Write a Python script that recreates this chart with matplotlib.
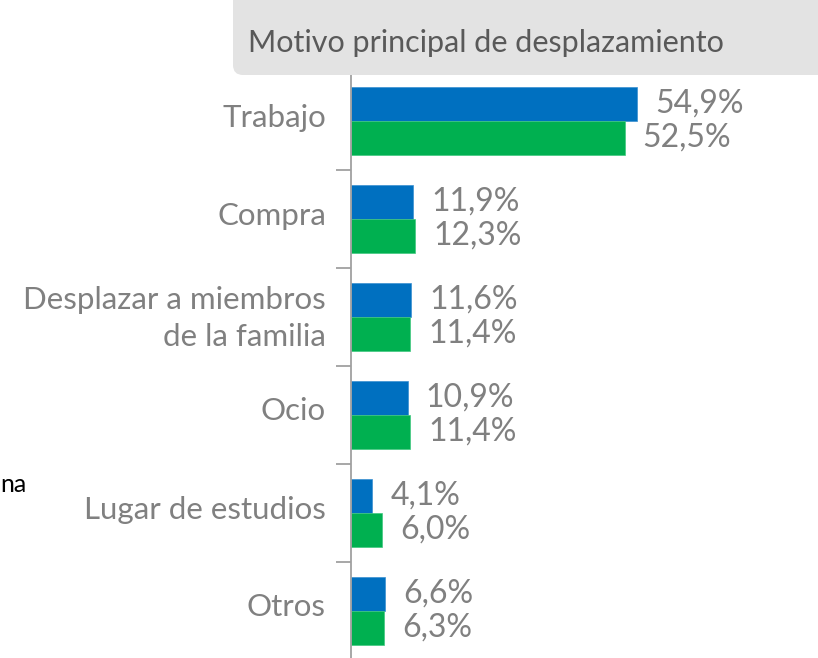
import matplotlib
matplotlib.use("Agg")
import matplotlib.pyplot as plt
from matplotlib.patches import FancyBboxPatch
from matplotlib.transforms import ScaledTranslation
import numpy as np

categories = ["Trabajo", "Compra", "Desplazar a miembros\nde la familia", "Ocio",
              "Lugar de estudios", "Otros"]
serie_a = [54.9, 11.9, 11.6, 10.9, 4.1, 6.6]
serie_b = [52.5, 12.3, 11.4, 11.4, 6.0, 6.3]
title = "Motivo principal de desplazamiento"

FONT = ["Lato", "DejaVu Sans"]
plt.rcParams['font.family'] = FONT

W, H = 818, 658
fig = plt.figure(figsize=(W / 100, H / 100), dpi=100)

def px_axes(left, top, right, bottom):
    return [left / W, (H - bottom) / H, (right - left) / W, (bottom - top) / H]

ax = fig.add_axes(px_axes(351, 72, 818, 660))
n = len(categories)
y = np.arange(n)
bh = 34 / 98
blue = "#0070C0"
green = "#00B050"
ax.barh(y - bh / 2, serie_a, height=bh, color=blue, edgecolor="#3a8fd0", linewidth=0.5)
ax.barh(y + bh / 2, serie_b, height=bh, color=green, edgecolor="#40c880", linewidth=0.5)

ax.set_xlim(0, (818 - 351) / 5.21)
ax.set_ylim(n - 0.5, -0.5)

txtc = "#808080"
for i in range(n):
    ax.annotate(f"{serie_a[i]:.1f}%".replace(".", ","), (serie_a[i], y[i] - bh / 2),
                xytext=(13, 0), textcoords="offset points", va="center", ha="left",
                fontsize=23, color=txtc)
    ax.annotate(f"{serie_b[i]:.1f}%".replace(".", ","), (serie_b[i], y[i] + bh / 2),
                xytext=(13, 0), textcoords="offset points", va="center", ha="left",
                fontsize=23, color=txtc)

ax.set_yticks(y)
ax.set_yticklabels(categories, fontsize=22.5, color=txtc, linespacing=1.4)
ax.tick_params(axis="y", which="major", length=0, pad=18)
ax.set_yticks(np.arange(-0.5, n, 1.0), minor=True)
ax.tick_params(axis="y", which="minor", length=10.8, width=1.3, color="#a0a0a0", direction="out")
shift = ScaledTranslation(0, 6 / 100, fig.dpi_scale_trans)
for lab in ax.get_yticklabels():
    lab.set_horizontalalignment("right")
    lab.set_transform(lab.get_transform() + shift)
ax.set_xticks([])
for s in ["top", "right", "bottom"]:
    ax.spines[s].set_visible(False)
ax.spines["left"].set_color("#a0a0a0")
ax.spines["left"].set_linewidth(1.3)
ax.patch.set_alpha(0)

# Title box
box = FancyBboxPatch((2.33, (H - 75) / 100), 6.5, 1.0,
                     boxstyle="round,pad=0,rounding_size=0.1",
                     transform=fig.dpi_scale_trans, facecolor="#e3e3e3",
                     edgecolor="none", zorder=0)
fig.patches.append(box)
fig.text(248 / W, (H - 52) / H, title, fontsize=22, color="#595959",
         ha="left", va="baseline")

fig.text(0 / W, (H - 492) / H, "na", fontsize=18, color="black", ha="left", va="baseline")

fig.savefig("out.png", dpi=100)
